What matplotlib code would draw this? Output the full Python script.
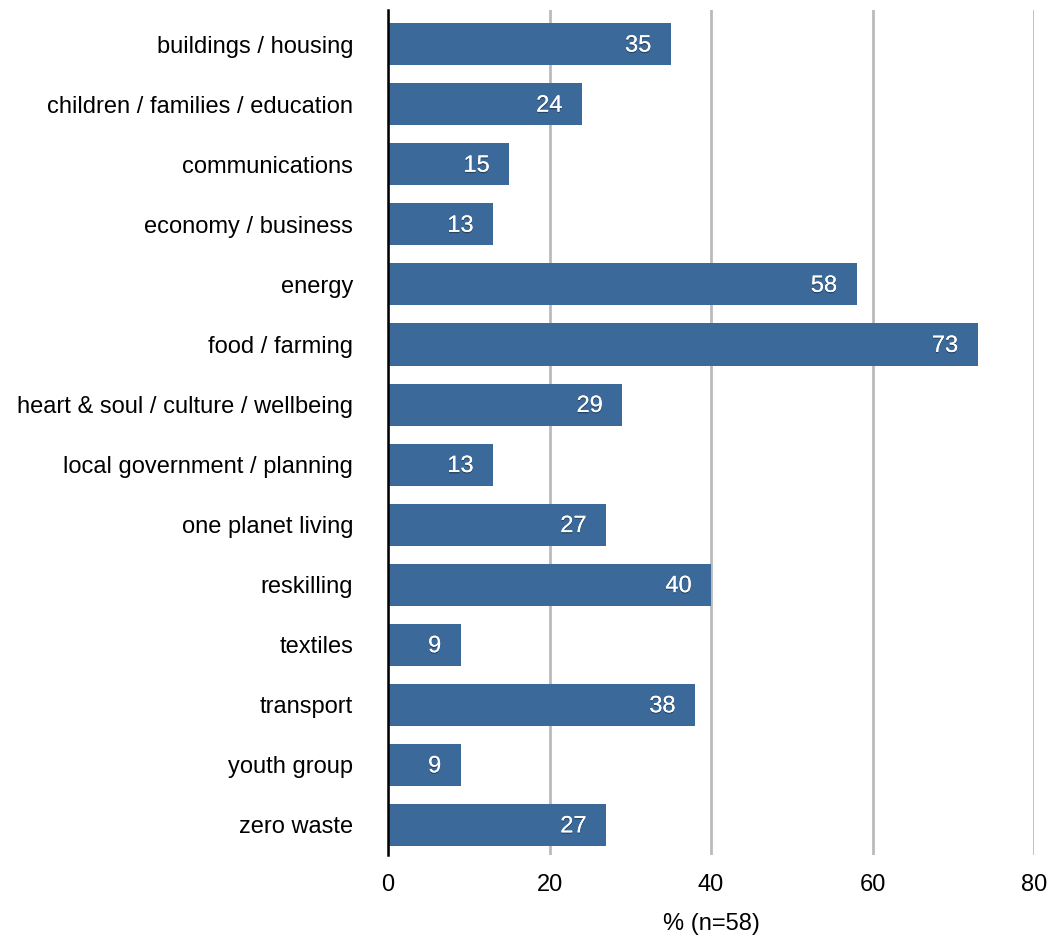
import matplotlib
matplotlib.use("Agg")
import matplotlib.pyplot as plt
import matplotlib.patheffects as pe

categories = [
    "buildings / housing",
    "children / families / education",
    "communications",
    "economy / business",
    "energy",
    "food / farming",
    "heart & soul / culture / wellbeing",
    "local government / planning",
    "one planet living",
    "reskilling",
    "textiles",
    "transport",
    "youth group",
    "zero waste",
]
values = [35, 24, 15, 13, 58, 73, 29, 13, 27, 40, 9, 38, 9, 27]
x_ticks = [0, 20, 40, 60, 80]

plt.rcParams['font.family'] = ['Liberation Sans', 'DejaVu Sans']

fig = plt.figure(figsize=(10.5, 9.4), dpi=100)
ax = fig.add_axes([0.3695, 0.0904, 0.6155, 0.8990])

pos = list(range(len(categories)))
ax.barh(pos, values, height=0.7, color="#3B6A9A", zorder=3)

# value labels inside the bar ends
for y, v in zip(pos, values):
    ax.annotate(str(v), xy=(v, y), xytext=(-14, -1), textcoords="offset points",
                ha="right", va="center", color="white", fontsize=17, zorder=4,
                path_effects=[pe.withSimplePatchShadow(offset=(0, -1), shadow_rgbFace="black", alpha=0.35),
                              pe.Normal()])

ax.set_xlim(0, 80)
ax.set_ylim(len(categories) - 0.5, -0.57)
ax.set_xticks(x_ticks)
ax.set_yticks(pos)
ax.set_yticklabels(categories, fontsize=17.4)
ax.tick_params(axis="both", length=0, labelsize=17)
ax.tick_params(axis="y", pad=25)
ax.tick_params(axis="x", pad=14)

ax.grid(axis="x", color="#BBBBBB", linewidth=2, zorder=0)
for s in ["top", "right", "bottom"]:
    ax.spines[s].set_visible(False)
ax.spines["left"].set_linewidth(1.8)
ax.spines["left"].set_color("black")
ax.spines["left"].set_zorder(5)

ax.set_xlabel("% (n=58)", fontsize=17, labelpad=12)

fig.savefig("out.png", dpi=100)
